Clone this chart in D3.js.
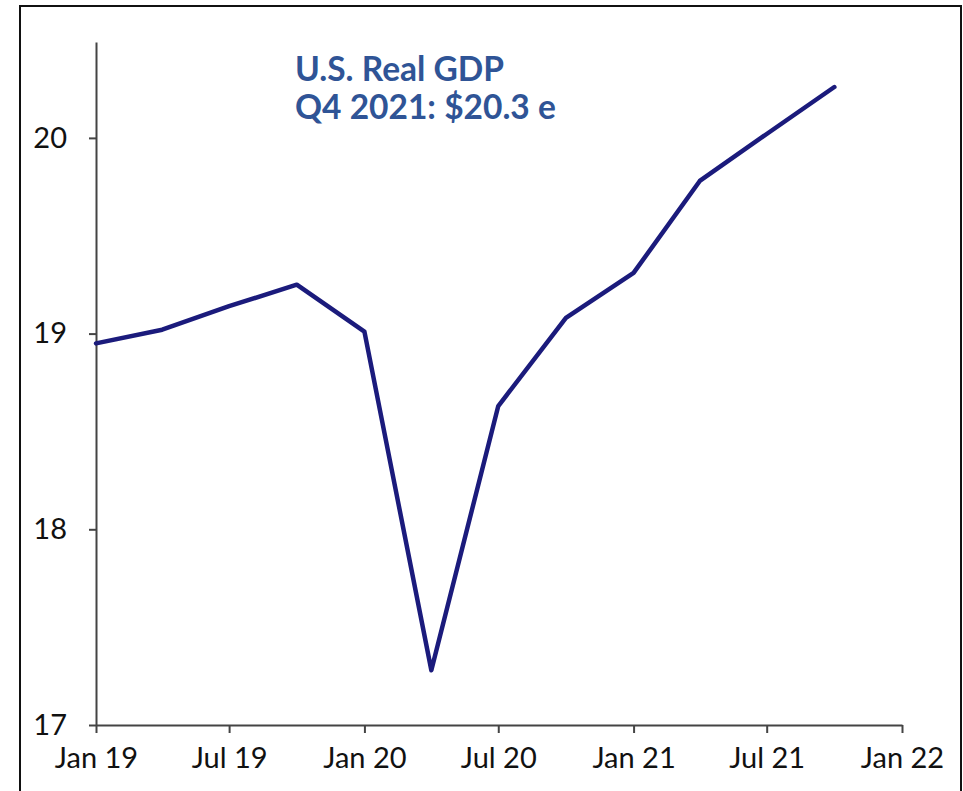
<!DOCTYPE html>
<html>
<head>
<meta charset="utf-8">
<script src="https://cdn.jsdelivr.net/npm/d3@7"></script>
<style>
  html, body { margin: 0; padding: 0; background: #fff; }
  svg { display: block; }
</style>
</head>
<body>
<script>
// ---- data ----
const quarters = ["2019-01-01","2019-04-01","2019-07-01","2019-10-01",
                  "2020-01-01","2020-04-01","2020-07-01","2020-10-01",
                  "2021-01-01","2021-04-01","2021-07-01","2021-10-01"];
const gdpValues = [18.95, 19.02, 19.14, 19.25, 19.01, 17.28, 18.63, 19.08, 19.31, 19.78, 20.02, 20.26];
const xTickDates = ["2019-01-01","2019-07-01","2020-01-01","2020-07-01","2021-01-01","2021-07-01","2022-01-01"];
const xTickLabels = ["Jan 19","Jul 19","Jan 20","Jul 20","Jan 21","Jul 21","Jan 22"];
const yTickValues = [17, 18, 19, 20];
const titleLines = ["U.S. Real GDP", "Q4 2021: $20.3 e"];

const W = 963, H = 791;
const parse = d3.utcParse("%Y-%m-%d");
const data = quarters.map((q, i) => ({ date: parse(q), value: gdpValues[i] }));

const svg = d3.select("body").append("svg").attr("width", W).attr("height", H);

// frame
svg.append("rect").attr("x", 20).attr("y", 6).attr("width", 941).attr("height", 800)
  .attr("fill", "none").attr("stroke", "#111").attr("stroke-width", 2);

const x = d3.scaleUtc().domain([parse("2019-01-01"), parse("2022-01-01")]).range([96, 902]);
const y = d3.scaleLinear().domain([17, 20.49]).range([725, 42]);

const fontFam = "Lato, 'Open Sans', sans-serif";

// y axis
const yAxis = svg.append("g").attr("transform", "translate(96,0)")
  .call(d3.axisLeft(y).tickValues(yTickValues).tickFormat(d3.format("d"))
        .tickSize(7).tickSizeOuter(0).tickPadding(22));
yAxis.selectAll("path.domain").attr("stroke", "#444").attr("stroke-width", 2);
yAxis.selectAll(".tick line").attr("stroke", "#444").attr("stroke-width", 2);
yAxis.selectAll(".tick text").attr("font-family", fontFam).attr("font-size", 29)
  .attr("fill", "#111");

// x axis
const xAxis = svg.append("g").attr("transform", "translate(0,725)")
  .call(d3.axisBottom(x).tickValues(xTickDates.map(parse))
        .tickFormat((d, i) => xTickLabels[i]).tickSize(8).tickSizeOuter(0).tickPadding(14));
xAxis.selectAll("path.domain").attr("stroke", "#444").attr("stroke-width", 2);
xAxis.selectAll(".tick line").attr("stroke", "#444").attr("stroke-width", 2);
xAxis.selectAll(".tick text").attr("font-family", fontFam).attr("font-size", 29)
  .attr("fill", "#111");

// line
const line = d3.line().x(d => x(d.date)).y(d => y(d.value));
svg.append("path").datum(data).attr("d", line)
  .attr("fill", "none").attr("stroke", "#1b1b7c").attr("stroke-width", 4.5)
  .attr("stroke-linejoin", "round").attr("stroke-linecap", "round");

// title
const t = svg.append("text").attr("font-family", fontFam).attr("font-weight", 700)
  .attr("font-size", 33.5).attr("fill", "#2f5496");
titleLines.forEach((s, i) => {
  t.append("tspan").attr("x", 295).attr("y", 81 + i * 38).text(s);
});
</script>
</body>
</html>
